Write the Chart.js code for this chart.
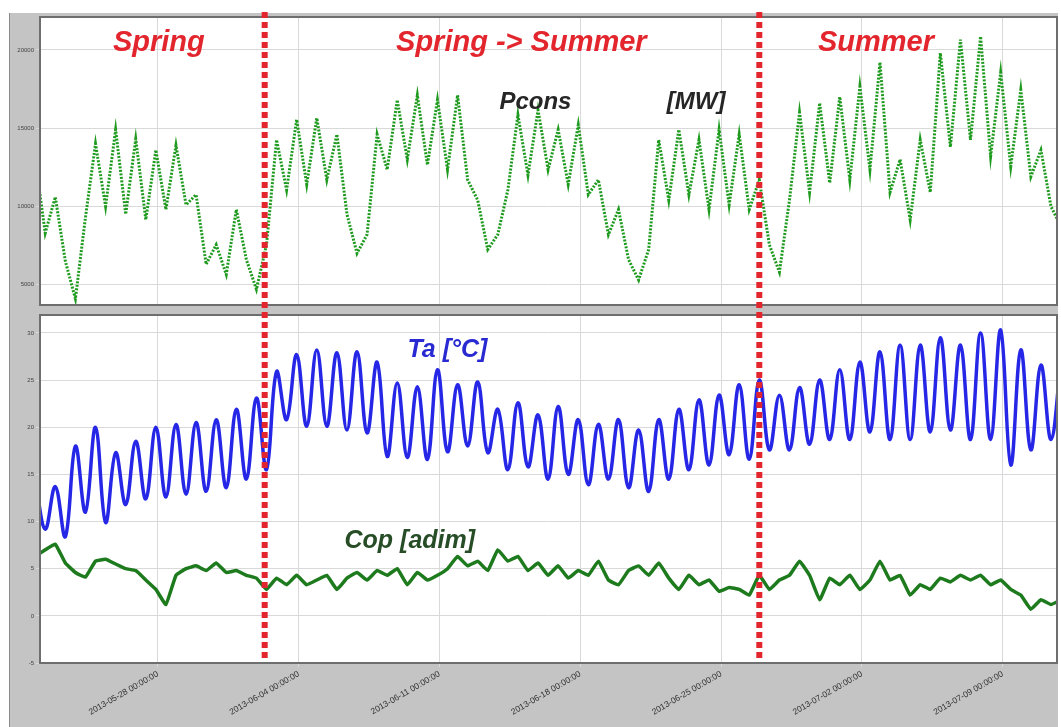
<!DOCTYPE html>
<html>
<head>
<meta charset="utf-8">
<script src="https://cdn.jsdelivr.net/npm/chart.js@4.4.0/dist/chart.umd.min.js"></script>
<style>
  html, body { margin: 0; padding: 0; background: #fff; }
  #wrap { width: 1061px; height: 727px; }
</style>
</head>
<body>
<div id="wrap"><canvas id="chart" width="1061" height="727"></canvas></div>
<script>
// samples every 12 h, day 0 = 2013-05-28 00:00
const sampleStartDay = -6.1;
const sampleStepDays = 0.5;

// Pcons [MW] daily highs / lows
const pconsPeaks = [13000, 10600, 4100, 14000, 14900, 14300, 13600, 13900, 10750, 7550,
  9800, 4700, 14250, 15550, 15650, 14600, 7000, 14600, 16800, 17100,
  16800, 17100, 10400, 8200, 15850, 16150, 14900, 15200, 11700, 9800,
  5300, 14250, 14900, 14250, 14900, 14600, 11700, 5800, 16000, 16600,
  17000, 17650, 19200, 13000, 14250, 19800, 20650, 20850, 18550, 17450,
  13600, 8700];
const pconsTroughs = [8300, 6500, 9300, 10000, 9500, 9150, 9800, 10100, 6300, 5650,
  6600, 7550, 11050, 11400, 11700, 9500, 8200, 12350, 13000, 12650,
  12350, 11700, 7250, 11050, 12000, 12350, 11400, 10750, 8200, 6600,
  7250, 10400, 10750, 9800, 10100, 9800, 7550, 10400, 10900, 11500,
  11700, 12350, 10900, 9150, 10900, 13800, 14250, 13200, 12550, 11900,
  10000];

// Ta [°C] daily highs / lows
const taPeaks = [14.5, 13.7, 18.0, 20.0, 17.3, 18.5, 20.0, 20.3, 20.5, 20.8,
  21.9, 23.1, 25.9, 27.7, 28.2, 27.9, 28.0, 26.9, 24.7, 24.3,
  26.1, 24.5, 24.8, 21.9, 22.6, 21.3, 22.2, 20.8, 20.3, 20.8,
  19.7, 20.8, 21.9, 22.9, 23.4, 24.5, 25.0, 23.4, 24.2, 25.0,
  26.1, 26.9, 28.0, 28.7, 28.7, 29.5, 28.7, 30.0, 30.3, 28.2,
  26.6, 27.1];
const taTroughs = [9.2, 8.4, 11.0, 9.9, 11.8, 12.4, 12.6, 12.9, 13.2, 13.6,
  14.5, 15.5, 20.8, 20.1, 20.1, 19.7, 19.4, 16.9, 16.8, 16.6,
  17.4, 18.0, 17.3, 15.5, 15.8, 14.5, 15.0, 13.9, 14.5, 13.6,
  13.2, 14.5, 15.5, 16.0, 17.1, 16.6, 17.6, 17.6, 18.2, 18.7,
  18.7, 19.5, 18.7, 18.7, 19.5, 19.7, 18.7, 18.7, 16.0, 17.6,
  18.7];

// Cop [adim], one value per sample
const copValues = [6.3, 7.0, 7.6, 5.6, 4.6, 4.1, 5.8, 6.0, 5.5, 5.0,
  4.8, 3.8, 2.8, 1.2, 4.3, 5.0, 5.3, 4.8, 5.6, 4.6,
  4.8, 4.3, 4.0, 2.8, 4.0, 3.3, 4.3, 3.3, 3.8, 4.3,
  2.8, 4.0, 4.6, 3.8, 4.8, 4.3, 5.0, 3.3, 4.6, 3.8,
  4.3, 5.0, 6.3, 5.3, 5.8, 4.8, 7.0, 5.8, 6.3, 4.8,
  5.6, 4.3, 5.3, 4.0, 4.8, 4.3, 5.8, 3.8, 3.3, 4.8,
  5.3, 4.3, 5.6, 4.0, 2.8, 4.3, 3.3, 3.8, 2.6, 3.0,
  2.8, 2.2, 4.3, 2.8, 3.8, 4.3, 5.8, 4.3, 1.7, 4.0,
  3.3, 4.3, 2.8, 3.8, 5.8, 3.8, 4.3, 2.2, 3.3, 2.8,
  4.0, 3.6, 4.3, 3.8, 4.3, 3.3, 3.8, 2.8, 2.2, 0.7,
  1.7, 1.2, 1.7];

const tickDays = [0, 7, 14, 21, 28, 35, 42];
const tickLabels = ['2013-05-28 00:00:00', '2013-06-04 00:00:00', '2013-06-11 00:00:00',
  '2013-06-18 00:00:00', '2013-06-25 00:00:00', '2013-07-02 00:00:00', '2013-07-09 00:00:00'];
const pconsTicks = [5000, 10000, 15000, 20000];
const taTicks = [-5, 0, 5, 10, 15, 20, 25, 30];

const seasonBounds = [5.31, 29.9];
const seasonNames = ['Spring', 'Spring -> Summer', 'Summer'];

function interleave(peaks, troughs) {
  const out = [];
  peaks.forEach((p, i) => {
    out.push(p);
    if (i < troughs.length) out.push(troughs[i]);
  });
  return out;
}

function toPoints(values) {
  return values.map((v, i) => ({ x: sampleStartDay + i * sampleStepDays, y: v }));
}

const pconsPoints = toPoints(interleave(pconsPeaks, pconsTroughs));
const taPoints = toPoints(interleave(taPeaks, taTroughs));
const copPoints = toPoints(copValues);

// text placed on the plot: [text, day, value, axis, colour, size, align]
const notes = [
  [seasonNames[0], 0.05, 19930, 'yP', '#e3252d', 29, 'center'],
  [seasonNames[1], 18.07, 19930, 'yP', '#e3252d', 29, 'center'],
  [seasonNames[2], 35.7, 19930, 'yP', '#e3252d', 29, 'center'],
  ['Pcons', 16.98, 16200, 'yP', '#262626', 24, 'left'],
  ['[MW]', 25.3, 16200, 'yP', '#262626', 24, 'left'],
  ['Ta [°C]', 12.41, 27.4, 'yT', '#2a2ad2', 25, 'left'],
  ['Cop [adim]', 9.28, 7.2, 'yT', '#264d26', 25, 'left']
];

const gray = '#c4c4c4';

const panelDeco = {
  id: 'panelDeco',
  beforeDraw(chart) {
    const { ctx, width, height, scales } = chart;
    const x = scales.x;
    ctx.save();
    ctx.fillStyle = '#fff';
    ctx.fillRect(0, 0, width, height);
    ctx.fillStyle = gray;
    ctx.fillRect(9, 13, width - 12, height - 13);
    ctx.strokeStyle = '#8a8a8a';
    ctx.lineWidth = 1;
    ctx.beginPath();
    ctx.moveTo(9.5, 13); ctx.lineTo(9.5, height);
    ctx.stroke();
    ctx.fillStyle = '#fff';
    [scales.yP, scales.yT].forEach(s => {
      ctx.fillRect(x.left, s.top, x.right - x.left, s.bottom - s.top);
    });
    ctx.restore();
  },
  beforeDatasetsDraw(chart) {
    const { ctx, scales } = chart;
    const g = scales.yGap, x = scales.x;
    ctx.save();
    ctx.fillStyle = gray;
    ctx.fillRect(x.left, g.top, x.right - x.left, g.bottom - g.top);
    ctx.restore();
  },
  afterDatasetsDraw(chart) {
    const { ctx, scales } = chart;
    const x = scales.x;
    ctx.save();
    // white patch between "Pcons" and "[MW]"
    ctx.fillStyle = '#fff';
    const px0 = x.getPixelForValue(21.1), px1 = x.getPixelForValue(25.27);
    const py0 = scales.yP.getPixelForValue(18100), py1 = scales.yP.getPixelForValue(16040);
    ctx.fillRect(px0, py0, px1 - px0, py1 - py0);

    // panel borders
    ctx.strokeStyle = '#6e6e6e';
    ctx.lineWidth = 2;
    [scales.yP, scales.yT].forEach(s => {
      ctx.strokeRect(x.left, s.top, x.right - x.left, s.bottom - s.top);
    });

    // labels
    notes.forEach(([text, day, value, axis, color, size, align]) => {
      ctx.font = `italic bold ${size}px "Liberation Sans", Arial, sans-serif`;
      ctx.fillStyle = color;
      ctx.textAlign = align;
      ctx.textBaseline = 'alphabetic';
      ctx.fillText(text, x.getPixelForValue(day), scales[axis].getPixelForValue(value));
    });

    // season separators
    ctx.strokeStyle = '#e3262d';
    ctx.lineWidth = 6;
    ctx.setLineDash([6, 4]);
    seasonBounds.forEach(d => {
      const px = x.getPixelForValue(d);
      ctx.beginPath();
      ctx.moveTo(px, 12);
      ctx.lineTo(px, x.top - 2);
      ctx.stroke();
    });
    ctx.restore();
  }
};

Chart.defaults.font.family = '"Liberation Sans", Arial, sans-serif';

const gridColor = '#d9d9d9';
const fixWidth = axis => { axis.width = 31; };

new Chart(document.getElementById('chart'), {
  type: 'line',
  data: {
    datasets: [
      {
        label: 'Pcons',
        data: pconsPoints,
        yAxisID: 'yP',
        borderColor: '#1e9b1e',
        borderWidth: 3,
        borderDash: [2, 1.5],
        pointRadius: 0,
        tension: 0
      },
      {
        label: 'Ta',
        data: taPoints,
        yAxisID: 'yT',
        borderColor: '#2626e6',
        borderWidth: 3.5,
        pointRadius: 0,
        tension: 0.4
      },
      {
        label: 'Cop',
        data: copPoints,
        yAxisID: 'yT',
        borderColor: '#1d7a1d',
        borderWidth: 3.5,
        pointRadius: 0,
        tension: 0.1
      }
    ]
  },
  options: {
    responsive: false,
    animation: false,
    layout: { padding: { left: 9, top: 17, right: 4, bottom: 0 } },
    plugins: {
      legend: { display: false },
      tooltip: { enabled: false }
    },
    scales: {
      x: {
        type: 'linear',
        min: -5.86,
        max: 44.7,
        afterBuildTicks: axis => { axis.ticks = tickDays.map(v => ({ value: v })); },
        afterFit: axis => { axis.height = 64; },
        ticks: {
          callback: v => tickLabels[tickDays.indexOf(v)],
          autoSkip: false,
          minRotation: 30,
          maxRotation: 30,
          font: { size: 8.5 },
          color: '#333',
          padding: 2
        },
        grid: { color: gridColor, tickLength: 4 },
        border: { display: false }
      },
      yT: {
        type: 'linear',
        position: 'left',
        stack: 'v',
        stackWeight: 348,
        min: -5,
        max: 31.9,
        afterBuildTicks: axis => { axis.ticks = taTicks.map(v => ({ value: v })); },
        afterFit: fixWidth,
        ticks: { callback: v => String(v), font: { size: 6 }, color: '#444', padding: 2 },
        grid: { color: gridColor, tickLength: 4 },
        border: { display: false }
      },
      yGap: {
        type: 'linear',
        position: 'left',
        stack: 'v',
        stackWeight: 10,
        min: 0,
        max: 1,
        afterFit: fixWidth,
        ticks: { display: false },
        grid: { display: false },
        border: { display: false }
      },
      yP: {
        type: 'linear',
        position: 'left',
        stack: 'v',
        stackWeight: 288,
        min: 3700,
        max: 22100,
        afterBuildTicks: axis => { axis.ticks = pconsTicks.map(v => ({ value: v })); },
        afterFit: fixWidth,
        ticks: { callback: v => String(v), font: { size: 6 }, color: '#444', padding: 2 },
        grid: { color: gridColor, tickLength: 4 },
        border: { display: false }
      }
    }
  },
  plugins: [panelDeco]
});
</script>
</body>
</html>
